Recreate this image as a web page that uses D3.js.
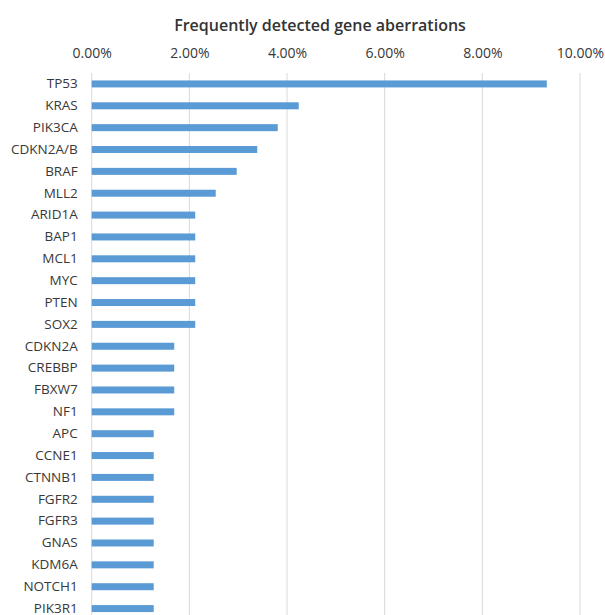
<!DOCTYPE html>
<html>
<head>
<style>
  body { margin: 0; background: #fff; }
  svg text { font-family: "Open Sans", "Liberation Sans", sans-serif; fill: #383838; }
  .title { font-size: 16px; font-weight: 600; fill: #333; }
  .x-axis .tick text { font-size: 14px; }
  .y-axis .tick text { font-size: 13.5px; }
</style>
</head>
<body>
<svg width="605" height="615"></svg>
<script src="https://d3js.org/d3.v7.min.js"></script>
<script>
// genes, top to bottom (chart is cut off below PIK3R1)
const genes = ["TP53", "KRAS", "PIK3CA", "CDKN2A/B", "BRAF", "MLL2", "ARID1A", "BAP1", "MCL1",
  "MYC", "PTEN", "SOX2", "CDKN2A", "CREBBP", "FBXW7", "NF1", "APC", "CCNE1", "CTNNB1",
  "FGFR2", "FGFR3", "GNAS", "KDM6A", "NOTCH1", "PIK3R1"];
// percent of cases
const freq = [9.32, 4.24, 3.81, 3.39, 2.97, 2.54, 2.12, 2.12, 2.12,
  2.12, 2.12, 2.12, 1.69, 1.69, 1.69, 1.69, 1.27, 1.27, 1.27,
  1.27, 1.27, 1.27, 1.27, 1.27, 1.27];
const xTicks = [0, 2, 4, 6, 8, 10];

const svg = d3.select("svg");
const plotLeft = 91.7, plotRight = 580, plotTop = 73, step = 21.86;
const plotBottom = plotTop + step * genes.length;

const x = d3.scaleLinear().domain([0, 10]).range([plotLeft, plotRight]);
const y = d3.scaleBand().domain(genes).range([plotTop, plotBottom]).paddingInner(0.68).paddingOuter(0.34);

svg.append("text")
  .attr("class", "title")
  .attr("x", 320).attr("y", 31)
  .attr("text-anchor", "middle")
  .text("Frequently detected gene aberrations");

// gridlines
svg.append("g")
  .selectAll("line")
  .data(xTicks)
  .join("line")
  .attr("x1", d => x(d)).attr("x2", d => x(d))
  .attr("y1", plotTop).attr("y2", plotBottom)
  .attr("stroke", "#d9d9d9").attr("stroke-width", 1);

// top axis
const xAxis = svg.append("g")
  .attr("class", "x-axis")
  .attr("transform", `translate(0,${plotTop})`)
  .call(d3.axisTop(x).tickValues(xTicks).tickFormat(d => d.toFixed(2) + "%").tickSize(0).tickPadding(15));
xAxis.select(".domain").remove();

// gene axis
const yAxis = svg.append("g")
  .attr("class", "y-axis")
  .attr("transform", `translate(${plotLeft},0)`)
  .call(d3.axisLeft(y).tickSize(0).tickPadding(14));
yAxis.select(".domain").remove();

svg.append("g")
  .selectAll("rect")
  .data(genes)
  .join("rect")
  .attr("x", x(0))
  .attr("y", d => y(d))
  .attr("width", (d, i) => x(freq[i]) - x(0))
  .attr("height", y.bandwidth())
  .attr("fill", "#5b9bd5");
</script>
</body>
</html>
